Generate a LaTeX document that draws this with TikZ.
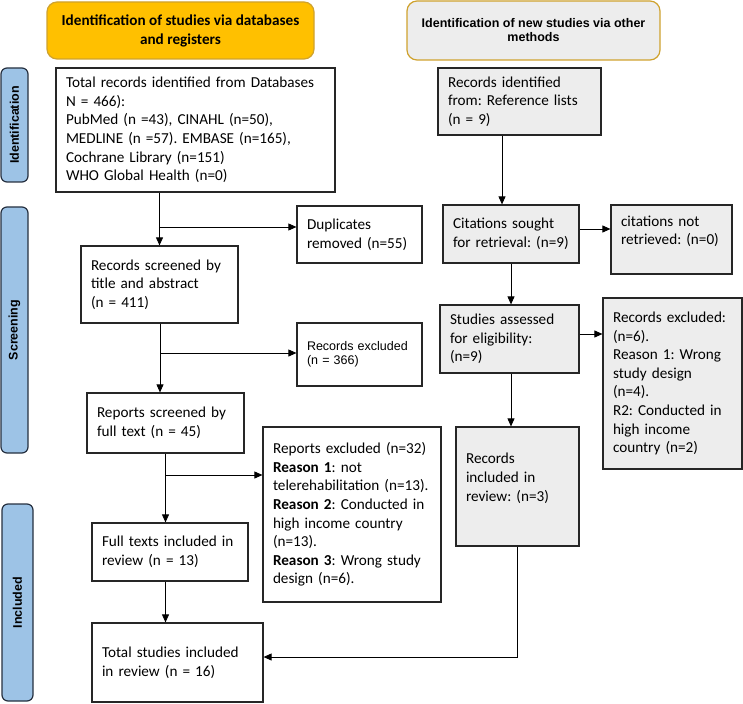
\documentclass[tikz,border=0pt]{standalone}
\usepackage{fontspec}
\setmainfont{Carlito}
\newfontfamily\arialfont{Liberation Sans}
\usetikzlibrary{arrows.meta, calc}
\frenchspacing

\definecolor{hdrgold}{HTML}{FFC000}
\definecolor{hdredge}{HTML}{CFA22E}
\definecolor{boxgrey}{HTML}{EDEDED}
\definecolor{phaseblue}{HTML}{9DC3E6}
\definecolor{phaseedge}{HTML}{263040}

\begin{document}
\begin{tikzpicture}[x=1pt, y=-1pt,
    box/.style 2 args={draw=black!85, line width=1.2pt, inner xsep=10pt, inner ysep=0pt, align=left,
        minimum width=#1, text width=#1-20pt, minimum height=#2, font=\fontsize{15.2}{18.6}\selectfont},
    greybox/.style 2 args={box={#1}{#2}, fill=boxgrey},
    hdr/.style={draw=hdredge, line width=1.2pt, rounded corners=10pt, align=center, inner sep=0pt},
    phase/.style 2 args={draw=phaseedge, fill=phaseblue, line width=1.2pt, rounded corners=6pt, rotate=90,
        inner sep=0pt, minimum width=#1, minimum height=#2, font=\arialfont\bfseries\fontsize{12.5}{14}\selectfont},
    arrow/.style={-{Triangle[length=8pt, width=7pt]}, line width=0.8pt}
]
    \useasboundingbox (0,0) rectangle (743,703);

    % headers
    \node[hdr, fill=hdrgold, minimum width=267pt, minimum height=57pt, font=\bfseries\fontsize{15.2}{19}\selectfont]
        (hdrdb) at (180.5,30.5) {Identification of studies via databases\\and registers};
    \node[hdr, fill=boxgrey, minimum width=253pt, minimum height=59pt, font=\arialfont\bfseries\fontsize{12.5}{14}\selectfont]
        (hdrother) at (533.5,30.5) {Identification of new studies via other\\methods};

    % phase bars
    \node[phase={114pt}{27pt}] (phid) at (14.5,125) {Identification};
    \node[phase={246pt}{27pt}] (phsc) at (14.5,330) {Screening};
    \node[phase={197pt}{31pt}] (phin) at (17.5,602.5) {Included};

    % databases column
    \node[box={279pt}{124pt}] (dbtotal) at (195.5,130) {Total records identified from Databases\\N = 466):\\PubMed (n =43), CINAHL (n=50),\\MEDLINE (n =57). EMBASE (n=165),\\Cochrane Library (n=151)\\WHO Global Health (n=0)};
    \node[box={125pt}{57pt}] (dup) at (359.5,234.5) {Duplicates\\removed (n=55)};
    \node[box={157pt}{77pt}] (tiab) at (159.5,284.5) {Records screened by\\title and abstract\\(n = 411)};
    \node[box={125pt}{63pt}, font=\arialfont\fontsize{12.5}{14}\selectfont] (exclrec) at (359.5,354.5) {Records excluded\\(n = 366)};
    \node[box={157pt}{60pt}] (fulltext) at (165.5,423) {Reports screened by\\full text (n = 45)};
    \node[box={178pt}{175pt}] (exclrep) at (352,514.5) {Reports excluded (n=32)\\\textbf{Reason 1}: not\\telerehabilitation (n=13).\\\textbf{Reason 2}: Conducted in\\high income country\\(n=13).\\\textbf{Reason 3}: Wrong study\\design (n=6).};
    \node[box={156pt}{58pt}] (ftincl) at (170,552) {Full texts included in\\review (n = 13)};
    \node[box={171pt}{79pt}] (final) at (177.5,662.5) {Total studies included\\in review (n = 16)};

    % other methods column
    \node[greybox={163pt}{67pt}] (reflist) at (519.5,101.5) {Records identified\\from: Reference lists\\(n = 9)};
    \node[greybox={136pt}{58pt}] (sought) at (511,234) {Citations sought\\for retrieval: (n=9)};
    \node[greybox={121pt}{69pt}] (notret) at (671.5,239.5) {citations not\\retrieved: (n=0)\\\mbox{}};
    \node[greybox={139pt}{68pt}] (assess) at (509.5,339) {Studies assessed\\for eligibility:\\(n=9)};
    \node[greybox={139pt}{171pt}] (exclelig) at (672.5,383.5) {Records excluded:\\(n=6).\\Reason 1: Wrong\\study design\\(n=4).\\R2: Conducted in\\high income\\country (n=2)};
    \node[greybox={123pt}{119pt}] (otherincl) at (517.5,486.5) {Records\\included in\\review: (n=3)\\\mbox{}};

    % branch points
    \coordinate (b1) at (160,227);
    \coordinate (b2) at (160,353);
    \coordinate (b3) at (166,475);

    \draw[arrow] (dbtotal.south -| tiab.north) -- (tiab.north);
    \draw[arrow] (b1) -- (b1 -| dup.west);
    \draw[arrow] (b1 |- tiab.south) -- (b1 |- fulltext.north);
    \draw[arrow] (b2) -- (b2 -| exclrec.west);
    \draw[arrow] (fulltext.south) -- (fulltext.south |- ftincl.north);
    \draw[arrow] (b3) -- (b3 -| exclrep.west);
    \draw[arrow] (fulltext.south |- ftincl.south) -- (fulltext.south |- final.north);

    \draw[arrow] ([xshift=-17.5pt]reflist.south) -- ([xshift=-17.5pt]reflist.south |- sought.north);
    \draw[arrow] ([yshift=5pt]sought.east) -- ([yshift=5pt]sought.east -| notret.west);
    \draw[arrow] (sought.south) -- (sought.south |- assess.north);
    \draw[arrow] ([yshift=5pt]assess.east) -- ([yshift=5pt]assess.east -| exclelig.west);
    \draw[arrow] (sought.south |- assess.south) -- (sought.south |- otherincl.north);
    \draw[arrow] (otherincl.south) |- ([yshift=5.5pt]final.east);

\end{tikzpicture}
\end{document}
